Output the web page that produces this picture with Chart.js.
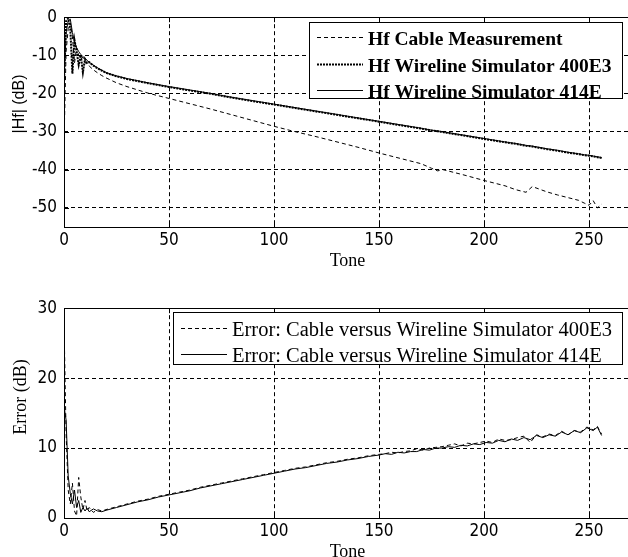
<!DOCTYPE html>
<html><head><meta charset="utf-8">
<script src="https://cdn.jsdelivr.net/npm/chart.js@4"></script>
<style>
html,body{margin:0;padding:0;background:#fff;overflow:hidden;width:628px;height:557px;position:relative;}
canvas{position:absolute;left:0;}
#c1{top:0;}
#c2{top:291px;}
</style></head><body>
<canvas id="c1" width="660" height="280"></canvas>
<canvas id="c2" width="660" height="280"></canvas>
<script>
// ---- tick labels ----
const xTicks = [0,50,100,150,200,250];
const hfTicks = [-50,-40,-30,-20,-10,0];
const errTicks = [0,10,20,30];

// ---- top plot: |Hf| (dB) ----
const hfTones = [0,1,2,3,4,5,6,7,8,9,10,11,12,14,16,18,20,25,30,40,50,60,70,80,90,100,110,120,130,140,150,160,170,175,178,180,190,200,210,215,220,223,226,230,235,240,245,248,250,252,254,256];
const hfCable = [-33,-9,-3,-1.5,-5,-12,-8,-10,-11,-10.5,-12,-12,-12.8,-13.8,-14.6,-15.3,-15.9,-17.2,-18.2,-19.9,-21.3,-22.7,-24.1,-25.6,-27.1,-28.6,-30,-31.3,-32.7,-34.1,-35.6,-37,-38.4,-39.6,-40.3,-39.9,-41.3,-42.8,-44.2,-45.2,-45.9,-44.4,-45,-45.8,-46.6,-47.3,-48,-48.8,-49.3,-48.1,-50,-49];
const hf400E3 = [-17,-1,-0.3,-3,-14.8,-6,-9,-12.5,-10,-14.5,-11,-12,-11.8,-12.7,-13.4,-14,-14.6,-15.5,-16.2,-17.3,-18.3,-19.2,-20.1,-21.1,-22,-22.9,-23.8,-24.7,-25.6,-26.5,-27.4,-28.3,-29.2,-29.7,-29.9,-30.1,-31,-31.9,-32.8,-33.2,-33.7,-33.9,-34.2,-34.6,-35,-35.5,-35.9,-36.2,-36.3,-36.5,-36.7,-36.9];
const hf414E = [-17,-4,-1,-0.5,-4,-6.5,-8,-9,-9.8,-10.3,-10.8,-11.3,-11.8,-12.6,-13.3,-13.9,-14.5,-15.4,-16.1,-17.2,-18.2,-19.1,-20,-21,-21.9,-22.8,-23.7,-24.6,-25.5,-26.4,-27.3,-28.2,-29.1,-29.6,-29.8,-30,-30.9,-31.8,-32.7,-33.1,-33.6,-33.8,-34.1,-34.5,-34.9,-35.4,-35.8,-36.1,-36.2,-36.4,-36.6,-36.8];

// ---- bottom plot: Error (dB) ----
const errTones = [0,1,2,3,4,5,6,7,8,9,10,11,12,14,16,18,20,25,30,35,40,45,50,55,60,65,70,75,80,85,90,95,100,105,110,115,120,125,130,135,140,145,150,153,156,159,162,165,168,171,174,177,180,183,186,189,192,195,198,201,204,207,210,213,216,219,222,225,228,231,234,237,240,243,246,249,252,254,256];
const err400E3 = [28,12,4,2,5,1,0.3,5.8,3,1.2,2.5,1,1.5,0.8,1.2,1,1.2,1.6,2,2.4,2.7,3.1,3.4,3.7,4,4.4,4.7,5,5.3,5.6,5.9,6.2,6.5,6.8,7.1,7.3,7.6,7.9,8.1,8.4,8.6,8.9,9.1,9.2,9.4,9.3,9.5,9.6,9.9,9.7,10,10.1,10.2,10.4,10.6,10.3,10.7,10.6,10.8,11,10.8,11.3,11.1,11.2,11.5,11.7,10.8,11.9,11.6,12,11.8,12.4,11.9,12.5,12.3,13,12.6,13.1,12];
const err414E = [16,14,6,3.5,2,4,1.5,2.5,0.8,1.5,1,1.4,0.9,1.3,1,0.9,1.1,1.5,1.9,2.3,2.6,3,3.3,3.6,3.9,4.3,4.6,4.9,5.2,5.5,5.8,6.1,6.4,6.7,7,7.2,7.5,7.8,8,8.3,8.5,8.8,9,9.2,9.1,9.4,9.3,9.5,9.5,9.8,9.7,10,10,10.2,10.1,10.4,10.3,10.6,10.5,10.8,10.7,11.1,10.9,11.3,11.1,11.5,11.2,11.8,11.5,11.9,11.7,12.3,11.9,12.5,12.2,12.9,12.5,13,11.8];

const tickFont = {family:"'Liberation Sans Narrow','DejaVu Sans Condensed','Liberation Sans',sans-serif", size:17};

function pts(xs, ys){ return xs.map((x,i)=>({x:x, y:ys[i]})); }

const framePlugin = {
  id:'frame',
  afterDatasetsDraw(chart){
    const {ctx, chartArea:a} = chart;
    ctx.save();
    ctx.setLineDash([]);
    ctx.strokeStyle='#000'; ctx.lineWidth=1;
    ctx.strokeRect(Math.round(a.left)+0.5, Math.round(a.top)+0.5, Math.round(a.right-a.left), Math.round(a.bottom-a.top));
    const xs = chart.scales.x, ys = chart.scales.y;
    ctx.beginPath();
    xs.ticks.forEach(t=>{
      const px = Math.round(xs.getPixelForValue(t.value))+0.5;
      ctx.moveTo(px, a.bottom); ctx.lineTo(px, a.bottom-5);
      ctx.moveTo(px, a.top); ctx.lineTo(px, a.top+5);
    });
    ys.ticks.forEach(t=>{
      const py = Math.round(ys.getPixelForValue(t.value))+0.5;
      ctx.moveTo(a.left, py); ctx.lineTo(a.left+5, py);
    });
    ctx.stroke();
    ctx.restore();
  },
  afterDraw(chart, args, L){
    if(!L || !L.right) return;
    const ctx = chart.ctx;
    ctx.save();
    if(L.yTitle){
      ctx.save();
      ctx.translate(L.yTitleX, L.yTitleY);
      ctx.rotate(-Math.PI/2);
      ctx.font = L.yTitleFont; ctx.fillStyle='#000';
      ctx.textAlign='center'; ctx.textBaseline='middle';
      ctx.fillText(L.yTitle, 0, 0);
      ctx.restore();
    }
    ctx.font = L.font;
    let tw = 0;
    chart.data.datasets.forEach(ds=>{ tw = Math.max(tw, ctx.measureText(ds.label).width); });
    const w = Math.round(L.pad + L.lineLen + L.gap + tw + L.rightPad);
    const h = L.h;
    const x = L.right - w, y = L.y;
    ctx.fillStyle='#fff';
    ctx.fillRect(x, y, w, h);
    ctx.setLineDash([]);
    ctx.strokeStyle='#000'; ctx.lineWidth=1;
    ctx.strokeRect(x+0.5, y+0.5, w, h);
    chart.data.datasets.forEach((ds,i)=>{
      const cy = Math.round(y + L.firstRow + i*L.rowH)+0.5;
      ctx.beginPath();
      ctx.setLineDash(ds.borderDash||[]);
      ctx.lineWidth = ds.borderWidth; ctx.strokeStyle = ds.borderColor;
      ctx.moveTo(x+L.pad, cy); ctx.lineTo(x+L.pad+L.lineLen, cy); ctx.stroke();
      ctx.setLineDash([]);
      ctx.fillStyle='#000'; ctx.textBaseline='alphabetic'; ctx.textAlign='left';
      ctx.fillText(ds.label, x+L.pad+L.lineLen+L.gap, cy + L.baseOff);
    });
    ctx.restore();
  }
};

function makeOptions(yMin, yMax, yTickVals, legend){
  return {
    responsive:false, animation:false, devicePixelRatio:1,
    layout:{padding:{top:17, right:29, left:0, bottom:0}},
    elements:{point:{radius:0}, line:{tension:0}},
    plugins:{legend:{display:false}, tooltip:{enabled:false}, frame:legend},
    scales:{
      x:{type:'linear', min:0, max:270,
        afterBuildTicks:(s)=>{ s.ticks = xTicks.map(v=>({value:v})); },
        afterFit:(s)=>{ s.height = 53; },
        ticks:{color:'#000', font:tickFont, padding:3, maxRotation:0, autoSkip:false},
        grid:{color:'#000', lineWidth:1, drawTicks:false},
        border:{display:false, dash:[4,3]},
        title:{display:true, text:'Tone', color:'#000', font:{family:"'Liberation Serif','Times New Roman',serif", size:18}, padding:{top:0,bottom:8}}
      },
      y:{type:'linear', min:yMin, max:yMax,
        afterBuildTicks:(s)=>{ s.ticks = yTickVals.map(v=>({value:v})); },
        afterFit:(s)=>{ s.width = 64; },
        ticks:{color:'#000', font:tickFont, padding:7},
        grid:{color:'#000', lineWidth:1, drawTicks:false},
        border:{display:false, dash:[4,3]},
        title:{display:false}
      }
    }
  };
}

new Chart(document.getElementById('c1'), {
  type:'line',
  data:{datasets:[
    {label:'Hf Cable Measurement', data:pts(hfTones,hfCable), borderColor:'#000', borderWidth:1, borderDash:[4,3], fill:false},
    {label:'Hf Wireline Simulator 400E3', data:pts(hfTones,hf400E3), borderColor:'#000', borderWidth:2, borderDash:[2,1], fill:false},
    {label:'Hf Wireline Simulator 414E', data:pts(hfTones,hf414E), borderColor:'#000', borderWidth:1, fill:false}
  ]},
  options: makeOptions(-55, 0, hfTicks,
    {right:622, y:22, h:76, firstRow:15, rowH:26.5, pad:8, lineLen:46, gap:5, rightPad:10, baseOff:7, font:"bold 19.5px 'Liberation Serif','Times New Roman',serif",
     yTitle:'|Hf| (dB)', yTitleX:20, yTitleY:104, yTitleFont:"16px 'Liberation Sans',Arial,sans-serif"}),
  plugins:[framePlugin]
});

new Chart(document.getElementById('c2'), {
  type:'line',
  data:{datasets:[
    {label:'Error: Cable versus Wireline Simulator 400E3', data:pts(errTones,err400E3), borderColor:'#000', borderWidth:1, borderDash:[4,3], fill:false},
    {label:'Error: Cable versus Wireline Simulator 414E', data:pts(errTones,err414E), borderColor:'#000', borderWidth:1, fill:false}
  ]},
  options: makeOptions(0, 30, errTicks,
    {right:622, y:21, h:52, firstRow:15.5, rowH:26, pad:8, lineLen:46, gap:5, rightPad:10, baseOff:7, font:"20.5px 'Liberation Serif','Times New Roman',serif",
     yTitle:'Error (dB)', yTitleX:21, yTitleY:106, yTitleFont:"18px 'Liberation Serif','Times New Roman',serif"}),
  plugins:[framePlugin]
});
</script>
</body></html>
